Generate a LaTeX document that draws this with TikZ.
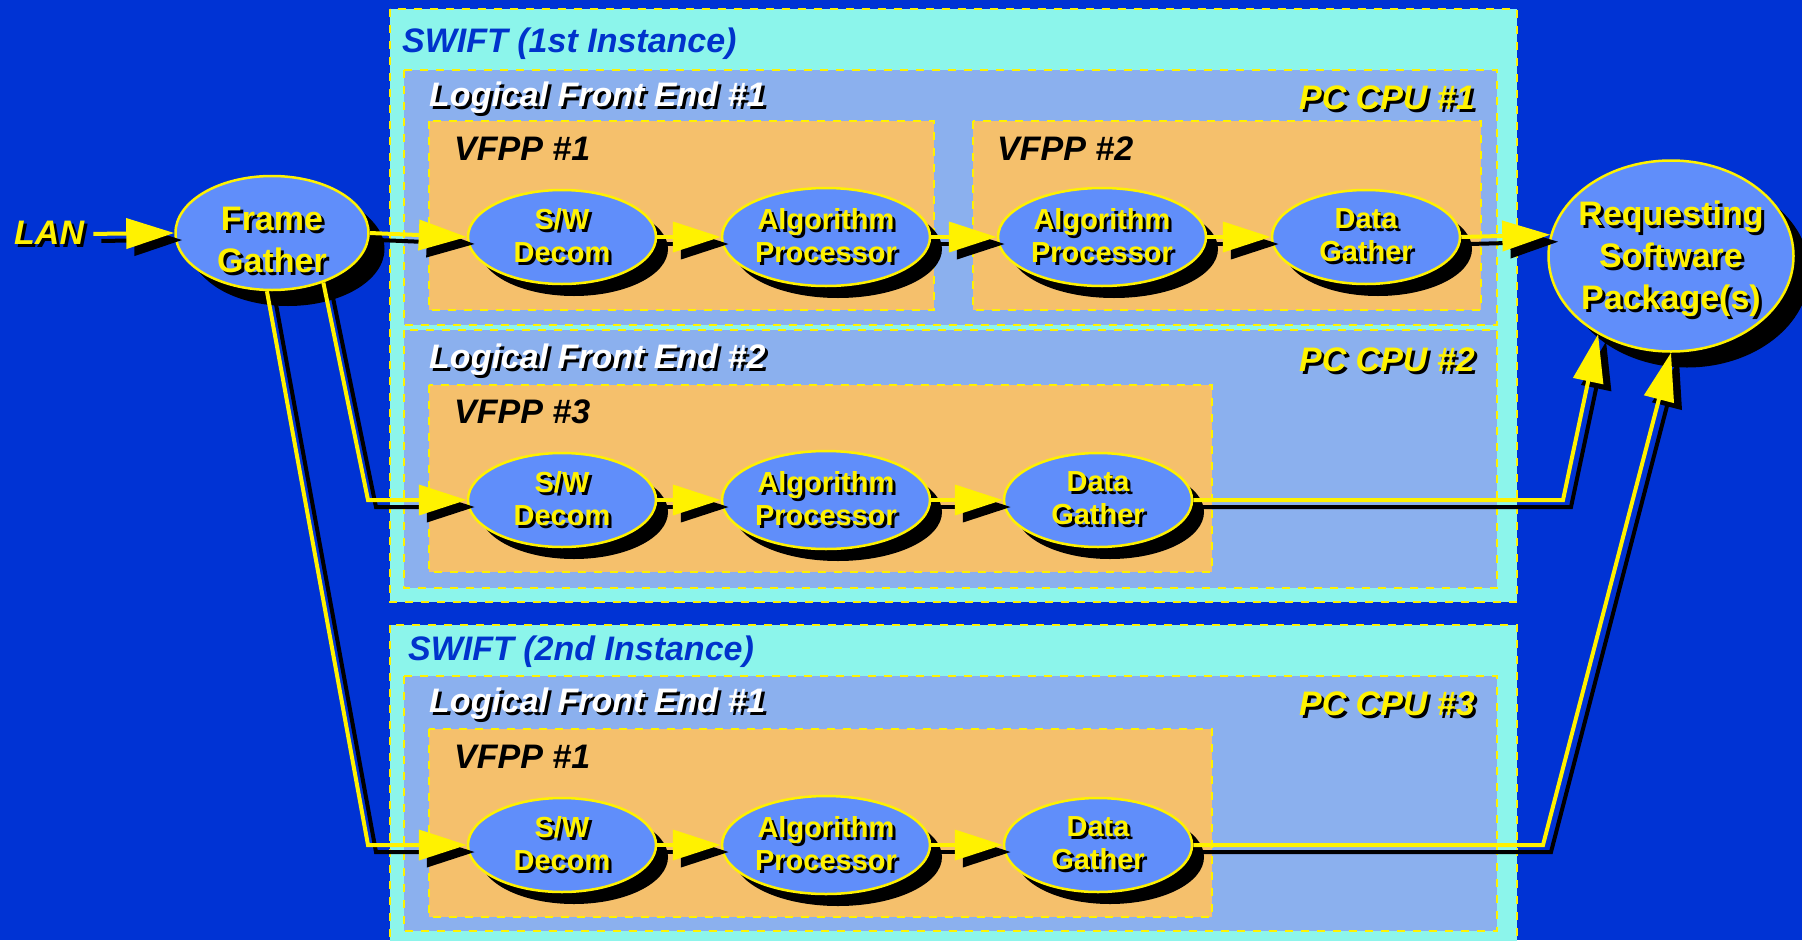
\documentclass[tikz,border=0pt]{standalone}
\usepackage{fontspec}
\setmainfont{Liberation Sans}
\usetikzlibrary{arrows.meta,shapes.geometric,shadows}
\definecolor{bgblue}{RGB}{0,51,212}
\definecolor{swiftcyan}{RGB}{140,245,235}
\definecolor{lfeblue}{RGB}{139,176,238}
\definecolor{vfpporange}{RGB}{245,192,108}
\definecolor{procblue}{RGB}{96,142,250}
\definecolor{swiftblue}{RGB}{0,51,204}
% yellow text with a black drop shadow
\newcommand{\sdw}[1]{\leavevmode\rlap{\kern3pt\raisebox{-3pt}{\color{black}#1}}#1}
% connector: black shadow first, yellow line on top
\newcommand{\flow}[2][]{\draw[flowshadow,#1] #2; \draw[flowline,#1] #2;}

\begin{document}
\begin{tikzpicture}[x=1pt,y=-1pt,>={Triangle[length=48pt,width=30pt]},
    flowline/.style={->,draw=yellow,line width=4pt},
    flowshadow/.style={->,draw=black,line width=4pt,transform canvas={shift={(8pt,-7pt)}}},
    swiftbox/.style={fill=swiftcyan,draw=yellow,line width=2pt,dash pattern=on 8pt off 8pt},
    lfebox/.style={fill=lfeblue,draw=yellow,line width=2pt,dash pattern=on 8pt off 8pt},
    vfppbox/.style={fill=vfpporange,draw=yellow,line width=2pt,dash pattern=on 8pt off 8pt},
    title/.style={inner sep=0pt,font=\fontsize{34}{41}\selectfont\bfseries\itshape},
    swifttitle/.style={title,anchor=west,text=swiftblue},
    lfetitle/.style={title,anchor=west,text=white},
    cputitle/.style={title,anchor=east,text=yellow},
    vfpptitle/.style={title,anchor=west,text=black},
    proc/.style={ellipse,fill=procblue,draw=yellow,line width=2.5pt,inner sep=0pt,
                 minimum width=188pt,minimum height=94pt,align=center,text=yellow,
                 font=\fontsize{29}{33}\selectfont\bfseries,
                 drop shadow={shadow xshift=12pt,shadow yshift=-12pt,fill=black,opacity=1}},
    algproc/.style={proc,minimum width=208pt,minimum height=98pt},
    bigproc/.style={proc,inner sep=-20pt,font=\fontsize{34}{42}\selectfont\bfseries,
                 drop shadow={shadow xshift=16pt,shadow yshift=-16pt,fill=black,opacity=1}},
  ]
  \useasboundingbox (0,0) rectangle (1802,940);
  \fill[bgblue] (0,0) rectangle (1802,940);

  % SWIFT (1st Instance)
  \path[swiftbox] (390,9)   rectangle (1517,602);
  \path[lfebox]   (404,70)  rectangle (1497,325);
  \path[vfppbox]  (429,121) rectangle (934,310);
  \path[vfppbox]  (973,121) rectangle (1481,310);
  \path[lfebox]   (404,330) rectangle (1497,588);
  \path[vfppbox]  (429,385) rectangle (1212,572);
  % SWIFT (2nd Instance)
  \path[swiftbox] (390,625) rectangle (1517,945);
  \path[lfebox]   (404,676) rectangle (1497,931);
  \path[vfppbox]  (429,729) rectangle (1212,917);

  \node[swifttitle] (swift1) at (402,44)  {SWIFT (1st Instance)};
  \node[lfetitle]   (lfe1)   at (429,99)  {\sdw{Logical Front End \#1}};
  \node[cputitle]   (cpu1)   at (1475,99) {\sdw{PC CPU \#1}};
  \node[vfpptitle]  (vfpp1)  at (454,149) {VFPP \#1};
  \node[vfpptitle]  (vfpp2)  at (997,149) {VFPP \#2};
  \node[lfetitle]   (lfe2)   at (429,361) {\sdw{Logical Front End \#2}};
  \node[cputitle]   (cpu2)   at (1475,361) {\sdw{PC CPU \#2}};
  \node[vfpptitle]  (vfpp3)  at (454,412) {VFPP \#3};
  \node[swifttitle] (swift2) at (408,652) {SWIFT (2nd Instance)};
  \node[lfetitle]   (lfe3)   at (429,705) {\sdw{Logical Front End \#1}};
  \node[cputitle]   (cpu3)   at (1475,705) {\sdw{PC CPU \#3}};
  \node[vfpptitle]  (vfpp4)  at (454,757) {VFPP \#1};

  \node[title,anchor=west,text=yellow] (lan) at (14,234) {\sdw{LAN}};
  \node[bigproc,minimum width=193pt,minimum height=114pt] (fg) at (272,233)
        {\rule{0pt}{40pt}\sdw{Frame}\\\sdw{Gather}};
  \node[bigproc,minimum width=245pt,minimum height=191pt] (req) at (1671,256)
        {\rule{0pt}{34pt}\sdw{Requesting}\\\sdw{Software}\\\sdw{Package(s)}};

  \node[proc]    (sw1)  at (562,237)  {\sdw{S/W}\\\sdw{Decom}};
  \node[algproc] (alg1) at (826,237)  {\sdw{Algorithm}\\\sdw{Processor}};
  \node[algproc] (alg2) at (1102,237) {\sdw{Algorithm}\\\sdw{Processor}};
  \node[proc]    (dg1)  at (1366,237) {\sdw{Data}\\\sdw{Gather}};

  \node[proc]    (sw2)  at (562,500)  {\sdw{S/W}\\\sdw{Decom}};
  \node[algproc] (alg3) at (826,500)  {\sdw{Algorithm}\\\sdw{Processor}};
  \node[proc]    (dg2)  at (1098,500) {\sdw{Data}\\\sdw{Gather}};

  \node[proc]    (sw3)  at (562,845)  {\sdw{S/W}\\\sdw{Decom}};
  \node[algproc] (alg4) at (826,845)  {\sdw{Algorithm}\\\sdw{Processor}};
  \node[proc]    (dg3)  at (1098,845) {\sdw{Data}\\\sdw{Gather}};

  \coordinate (fgturn2) at (368,500);
  \coordinate (fgturn3) at (368,845);
  \coordinate (dgturn2) at (1563,500);
  \coordinate (dgturn3) at (1543,845);

  \flow[shorten <=9pt]{(lan.east) -- (fg.west)}
  \flow{(fg.east) -- (sw1.west)}
  \flow{(sw1) -- (alg1)}
  \flow{(alg1) -- (alg2)}
  \flow{(alg2) -- (dg1)}
  \flow{(dg1.east) -- (req.170)}
  \flow{(fg.-44) -- (fgturn2) -- (sw2.west)}
  \flow{(sw2) -- (alg3)}
  \flow{(alg3) -- (dg2)}
  \flow{(dg2.east) -- (dgturn2) -- (req.-133)}
  \flow{(fg.-95) -- (fgturn3) -- (sw3.west)}
  \flow{(sw3) -- (alg4)}
  \flow{(alg4) -- (dg3)}
  \flow{(dg3.east) -- (dgturn3) -- (req.south)}
\end{tikzpicture}
\end{document}
